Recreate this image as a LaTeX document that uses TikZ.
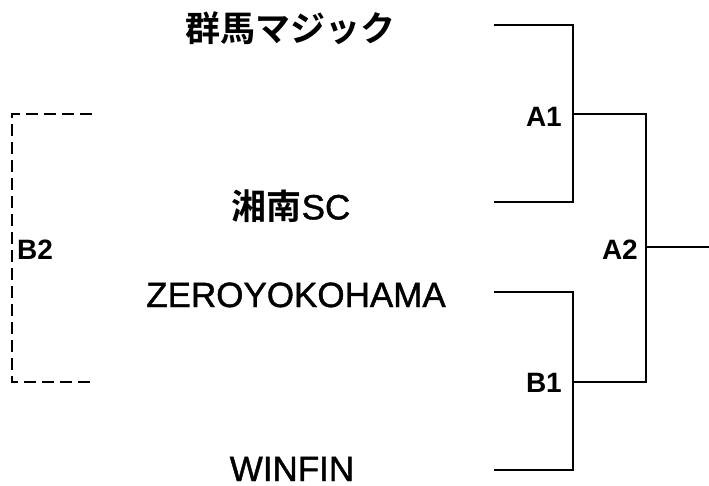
\documentclass[tikz,border=0pt]{standalone}
\usepackage{fontspec}
\setmainfont{Liberation Sans}
\newfontfamily\jpfont{Noto Sans CJK JP}[BoldFont={Noto Sans CJK JP Bold}]
\newfontfamily\teamfont{Liberation Sans}[FakeBold=1.2]
\usetikzlibrary{positioning}
\tikzset{
  team/.style={font=\fontsize{35}{40}\selectfont\teamfont, inner sep=0pt},
  matchlbl/.style={font=\fontsize{28}{32}\selectfont\bfseries, inner sep=0pt},
  bline/.style={line width=2.3pt},
  dline/.style={line width=2.3pt, dash pattern=on 12pt off 6pt}
}
\begin{document}
\begin{tikzpicture}[x=1pt, y=-1pt]
    \def\xa{494}
    \def\xb{573}
    \def\xc{646}

    \useasboundingbox (0,0) rectangle (709,485);

    % teams
    \node[team] (gunma) at (290,28) {\jpfont\bfseries 群馬マジック};
    \node[team] (shonan) at (291,206) {{\jpfont\bfseries 湘南}SC};
    \node[team, anchor=base] (zero) at (296,307) {ZEROYOKOHAMA};
    \node[team, anchor=base] (winfin) at (292,481) {WINFIN};

    % bracket points
    \coordinate (gunmaEnd) at (\xa,25);
    \coordinate (shonanEnd) at (\xa,202);
    \coordinate (zeroEnd) at (\xa,292);
    \coordinate (winfinEnd) at (\xa,470);
    \coordinate (a1) at (\xb,114);
    \coordinate (b1) at (\xb,382);
    \coordinate (a2) at (\xc,247);
    \coordinate (final) at (709,247);
    \coordinate (b2top) at (92,114);
    \coordinate (b2) at (12,247);
    \coordinate (b2bot) at (92,382);

    \draw[bline] (gunmaEnd) -| (a1) |- (shonanEnd);
    \draw[bline] (zeroEnd) -| (b1) |- (winfinEnd);
    \draw[bline] (a1) -| (a2) |- (b1);
    \draw[bline] (a2) -- (final);
    % dashed one
    \draw[dline] (b2top) -| (b2) |- (b2bot);

    % match labels
    \node[matchlbl, anchor=east] (A1lbl) at (562,117) {A1};
    \node[matchlbl, anchor=east] (A2lbl) at (638,250) {A2};
    \node[matchlbl, anchor=east] (B1lbl) at (562,383) {B1};
    \node[matchlbl, anchor=west] (B2lbl) at (17,250) {B2};
\end{tikzpicture}
\end{document}
